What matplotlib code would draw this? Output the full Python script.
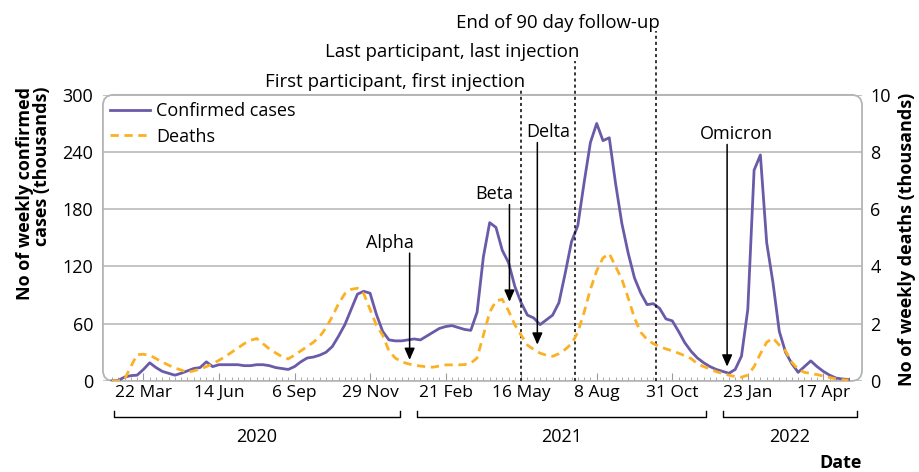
import numpy as np
import pandas as pd
import matplotlib.pyplot as plt
from matplotlib.patches import FancyBboxPatch
from matplotlib.ticker import FixedLocator, FixedFormatter

plt.rcParams['font.family'] = ['Open Sans', 'DejaVu Sans']

# weekly data, first week 16 Feb 2020
weeks = pd.date_range('2020-02-16', '2022-05-15', freq='7D')
cases = [0, 0.5, 4, 5.5, 6, 12, 19, 14, 10, 8,
         6, 8, 10.5, 13, 14, 20, 15, 17, 17, 17,
         17, 16, 16, 17, 17, 16, 14, 13, 12, 15,
         20, 24, 25, 27, 30, 36, 47, 59, 75, 91,
         94, 92, 70, 52, 43, 42, 42, 43, 44, 43,
         47, 51, 55, 57, 58, 56, 54, 53, 72, 130,
         166, 161, 137, 124, 99, 82, 69, 66, 59, 64,
         69, 82, 113, 146, 163, 208, 250, 270, 252, 255,
         207, 165, 134, 108, 92, 80, 81, 76, 65, 63,
         52, 40, 31, 24, 19, 15, 12, 10, 8, 12,
         26, 75, 221, 237, 145, 103, 52, 30, 18, 9,
         15, 21, 15, 10, 6, 3, 2, 1.5]
deaths = [0, 0, 0.05, 0.5, 0.92, 0.93, 0.9, 0.78, 0.66, 0.55,
          0.45, 0.38, 0.3, 0.35, 0.42, 0.5, 0.6, 0.72, 0.85, 1.0,
          1.15, 1.3, 1.42, 1.48, 1.3, 1.12, 0.98, 0.85, 0.77, 0.9,
          1.05, 1.2, 1.35, 1.55, 1.85, 2.25, 2.7, 3.05, 3.2, 3.24,
          3.05, 2.5, 1.95, 1.6, 1.05, 0.8, 0.67, 0.6, 0.55, 0.52,
          0.49, 0.48, 0.52, 0.56, 0.56, 0.56, 0.57, 0.62, 0.8, 1.6,
          2.4, 2.8, 2.85, 2.45, 1.96, 1.6, 1.25, 1.1, 0.97, 0.9,
          0.86, 0.95, 1.1, 1.3, 1.7, 2.4, 3.2, 3.85, 4.3, 4.45,
          4.0, 3.55, 2.9, 2.2, 1.7, 1.45, 1.3, 1.2, 1.12, 1.05,
          0.97, 0.88, 0.78, 0.6, 0.5, 0.42, 0.32, 0.26, 0.2, 0.15,
          0.13, 0.2, 0.5, 0.95, 1.35, 1.5, 1.25, 1.05, 0.65, 0.4,
          0.3, 0.26, 0.22, 0.17, 0.12, 0.07, 0.04, 0.03]

tick_dates = pd.date_range('2020-03-22', periods=10, freq='84D')
tick_labels = [f"{d.day} {d.strftime('%b')}" for d in tick_dates]

years = ['2020', '2021', '2022']
year_start = ['2020-02-18', '2021-01-20', '2021-12-26']
year_end = ['2021-01-01', '2021-12-08', '2022-05-24']

milestones = ['First participant, first injection', 'Last participant, last injection',
              'End of 90 day follow-up']
milestone_dates = ['2021-05-16', '2021-07-15', '2021-10-13']
milestone_top = [305, 336, 367]

variants = ['Alpha', 'Beta', 'Delta', 'Omicron']
variant_dates = ['2021-01-12', '2021-05-03', '2021-06-03', '2021-12-31']
arrow_top = [134, 185, 250, 248]
arrow_tip = [22, 83, 38, 15]

purple = '#6a5aa8'
orange = '#fbb123'

fig = plt.figure(figsize=(9.19, 4.72), dpi=100)
ax = fig.add_axes([0.112, 0.193, 0.826, 0.606])
ax2 = ax.twinx()

l1, = ax.plot(weeks, cases, color=purple, lw=2, label='Confirmed cases')
l2, = ax2.plot(weeks, deaths, color=orange, lw=2, dashes=(3, 2), label='Deaths')

ax.set_xlim(pd.Timestamp('2020-02-06'), pd.Timestamp('2022-05-30'))
ax.set_ylim(0, 300)
ax2.set_ylim(0, 10)
ax.set_yticks(range(0, 301, 60))
ax2.set_yticks(range(0, 11, 2))

for a in (ax, ax2):
    for s in a.spines.values():
        s.set_visible(False)
ax.yaxis.grid(True, color='#b4b4b4', lw=1.1)
ax.set_axisbelow(True)

frame = FancyBboxPatch((0, 0), 1, 1, boxstyle='round,pad=0,rounding_size=0.014',
                       mutation_aspect=759 / 286, transform=ax.transAxes,
                       fill=False, edgecolor='#b4b4b4', lw=1.3, clip_on=False)
ax.add_patch(frame)

ax.xaxis.set_major_locator(FixedLocator(ax.convert_xunits(tick_dates)))
ax.xaxis.set_major_formatter(FixedFormatter(tick_labels))
ax.xaxis.set_minor_locator(FixedLocator(ax.convert_xunits(weeks)))
ax.tick_params(axis='x', which='major', direction='in', length=6, color='#9a9a9a',
               labelsize=12.5, pad=3)
ax.tick_params(axis='x', which='minor', direction='in', length=3, color='#9a9a9a')
ax.tick_params(axis='y', length=0, labelsize=13, pad=7)
ax2.tick_params(axis='y', length=0, labelsize=13, pad=6)

ax.set_ylabel('No of weekly confirmed\ncases (thousands)', fontsize=13,
              fontweight='bold', loc='top', linespacing=0.95)
ax.yaxis.set_label_coords(-0.068, 1.028)
ax2.set_ylabel('No of weekly deaths (thousands)', fontsize=13, fontweight='bold', loc='top')
ax2.yaxis.set_label_coords(1.048, 1.007)

ax2.legend(handles=[l1, l2], loc='upper left', bbox_to_anchor=(0, 1), frameon=False,
           fontsize=13, handlelength=2.2, handletextpad=0.35, borderaxespad=0.2,
           borderpad=0.2, labelspacing=0.42)

# study milestones
for label, d, top in zip(milestones, milestone_dates, milestone_top):
    d = pd.Timestamp(d)
    ax.plot([d, d], [0, top], color='black', lw=1.1, ls=(0, (2, 2)), clip_on=False)
    ax.annotate(label, xy=(d, top), xytext=(3, -0.5), textcoords='offset points',
                ha='right', va='bottom', fontsize=13.4, annotation_clip=False)

# variant arrows
offsets = [(3, 'right'), (3, 'right'), (8, 'center'), (7, 'center')]
for name, d, top, tip, (dx, ha) in zip(variants, variant_dates, arrow_top, arrow_tip, offsets):
    d = pd.Timestamp(d)
    ax.annotate('', xy=(d, tip), xytext=(d, top),
                arrowprops=dict(arrowstyle='-|>,head_length=0.5,head_width=0.22',
                                color='black', lw=1.1, shrinkA=0, shrinkB=0,
                                mutation_scale=14))
    ax.annotate(name, xy=(d, top), xytext=(dx, 1), textcoords='offset points',
                ha=ha, va='bottom', fontsize=13)

# year brackets
trans = ax.get_xaxis_transform()
for label, s, e in zip(years, year_start, year_end):
    s, e = pd.Timestamp(s), pd.Timestamp(e)
    ax.plot([s, s, e, e], [-0.105, -0.126, -0.126, -0.105], transform=trans,
            color='black', lw=1, clip_on=False)
    ax.text(s + (e - s) / 2, -0.196, label, transform=trans, ha='center',
            va='center', fontsize=13)

fig.text(0.938, 0.019, 'Date', ha='right', va='center', fontsize=13, fontweight='bold')

fig.savefig('out.png', dpi=100)
